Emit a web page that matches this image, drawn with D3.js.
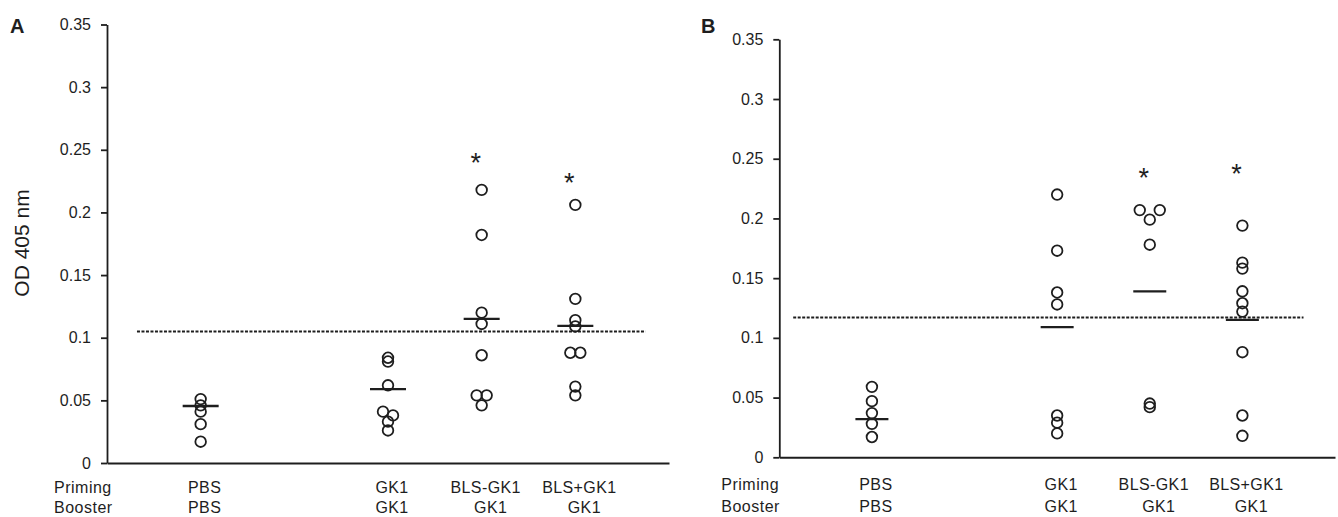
<!DOCTYPE html>
<html>
<head>
<meta charset="utf-8">
<script src="https://cdn.jsdelivr.net/npm/d3@7"></script>
<style>
  body { margin: 0; background: #fff; }
  svg { display: block; font-family: "Liberation Sans", Arial, sans-serif; }
</style>
</head>
<body>
<svg id="chart" width="1338" height="517"></svg>
<script>
// categories (slot 1 is an empty gap on the axis)
var slots = ["PBS", "gap", "GK1", "BLS-GK1", "BLS+GK1"];
var priming = ["PBS", "GK1", "BLS-GK1", "BLS+GK1"];
var booster = ["PBS", "GK1", "GK1", "GK1"];
var yTicks = [0, 0.05, 0.1, 0.15, 0.2, 0.25, 0.3, 0.35];

// panel A values (OD 405 nm)
var aPBS = [0.051, 0.046, 0.041, 0.031, 0.017];
var aGK1 = [0.084, 0.081, 0.062, 0.041, 0.038, 0.033, 0.026];
var aBLSminus = [0.218, 0.182, 0.120, 0.111, 0.086, 0.054, 0.054, 0.046];
var aBLSplus = [0.206, 0.131, 0.114, 0.109, 0.088, 0.088, 0.061, 0.054];
// side by side points: -1 left, 1 right
var aSide = [[0,0,0,0,0], [0,0,0,-1,1,0,0], [0,0,0,0,0,-1,1,0], [0,0,0,0,-1,1,0,0]];
var aMeans = [0.0455, 0.059, 0.115, 0.1095];
var aCutoff = 0.105;
var aStars = [null, null, 0.2445, 0.228];

// panel B values
var bPBS = [0.059, 0.047, 0.037, 0.028, 0.017];
var bGK1 = [0.220, 0.173, 0.138, 0.128, 0.035, 0.029, 0.020];
var bBLSminus = [0.207, 0.207, 0.199, 0.178, 0.045, 0.042];
var bBLSplus = [0.194, 0.163, 0.158, 0.139, 0.129, 0.122, 0.088, 0.035, 0.018];
var bSide = [[0,0,0,0,0], [0,0,0,0,0,0,0], [-2,2,0,0,0,0], [0,0,0,0,0,0,0,0,0]];
var bMeans = [0.032, 0.109, 0.139, 0.115];
var bCutoff = 0.117;
var bStars = [null, null, 0.239, 0.242];

var groups = ["PBS", "GK1", "BLS-GK1", "BLS+GK1"];
var svg = d3.select("#chart");
var ink = "#1e1e1e";

function panel(p) {
  var g = svg.append("g");

  var x = d3.scalePoint().domain(slots).range([p.left, p.right]).padding(1);
  var y = d3.scaleLinear().domain([0, 0.35]).range([p.bottom, p.top]);
  var step = x.step();

  // y axis
  var yAxis = g.append("g")
    .attr("transform", "translate(" + p.left + ",0)")
    .call(d3.axisLeft(y).tickValues(yTicks).tickSize(6).tickSizeOuter(0).tickPadding(10)
      .tickFormat(function(d){ return d === 0 ? "0" : String(+d.toFixed(2)); }));
  yAxis.selectAll("path, line").attr("stroke", ink).attr("stroke-width", 1.8);
  yAxis.selectAll("text").attr("fill", ink).style("font-size", "16px");

  // x axis, no ticks
  var xAxis = g.append("g")
    .attr("transform", "translate(0," + p.bottom + ")")
    .call(d3.axisBottom(x).tickValues([]).tickSizeOuter(0));
  xAxis.select("path").attr("stroke", ink).attr("stroke-width", 2);

  // cut-off line
  g.append("line")
    .attr("x1", p.left + p.dashFrom * step).attr("x2", p.left + p.dashTo * step)
    .attr("y1", y(p.cutoff)).attr("y2", y(p.cutoff))
    .attr("stroke", ink).attr("stroke-width", 2).attr("stroke-dasharray", "3,1.5");

  // points
  var pts = [];
  p.values.forEach(function(vals, gi){
    vals.forEach(function(v, i){
      pts.push({group: groups[gi], value: v, side: p.side[gi][i]});
    });
  });
  g.selectAll("circle.pt")
    .data(pts)
    .enter().append("circle")
    .attr("class", "pt")
    .attr("cx", function(d){ return x(d.group) + d.side * 5; })
    .attr("cy", function(d){ return y(d.value); })
    .attr("r", 5.3)
    .attr("fill", "none")
    .attr("stroke", ink)
    .attr("stroke-width", 1.8);

  // mean bars
  g.selectAll("line.mean")
    .data(groups.map(function(d, i){ return {group: d, value: p.means[i]}; }))
    .enter().append("line")
    .attr("class", "mean")
    .attr("x1", function(d){ return x(d.group) - p.meanW / 2; })
    .attr("x2", function(d){ return x(d.group) + p.meanW / 2; })
    .attr("y1", function(d){ return y(d.value); })
    .attr("y2", function(d){ return y(d.value); })
    .attr("stroke", ink).attr("stroke-width", 2.3);

  // significance stars
  g.selectAll("text.star")
    .data(groups.map(function(d, i){ return {group: d, value: p.stars[i]}; }).filter(function(d){ return d.value != null; }))
    .enter().append("text")
    .attr("class", "star")
    .attr("x", function(d){ return x(d.group) - 6; })
    .attr("y", function(d){ return y(d.value) + 15; })
    .attr("text-anchor", "middle")
    .attr("fill", ink)
    .style("font-size", "27px")
    .text("*");

  // priming / booster rows
  g.append("text").attr("x", p.left - p.rowLabelDx).attr("y", p.row1)
    .attr("fill", ink).style("font-size", "16px").style("letter-spacing", "0.5px").text("Priming");
  g.append("text").attr("x", p.left - p.rowLabelDx).attr("y", p.row2)
    .attr("fill", ink).style("font-size", "16px").style("letter-spacing", "0.5px").text("Booster");

  g.selectAll("text.prim")
    .data(groups.map(function(d, i){ return {group: d, label: priming[i]}; }))
    .enter().append("text")
    .attr("class", "prim")
    .attr("x", function(d){ return x(d.group) + 4; })
    .attr("y", p.row1)
    .attr("text-anchor", "middle")
    .attr("fill", ink).style("font-size", "16px").style("letter-spacing", "0.4px")
    .text(function(d){ return d.label; });

  g.selectAll("text.boost")
    .data(groups.map(function(d, i){ return {group: d, label: booster[i]}; }))
    .enter().append("text")
    .attr("class", "boost")
    .attr("x", function(d, i){ return x(d.group) + (i < 2 ? 4 : 9); })
    .attr("y", p.row2)
    .attr("text-anchor", "middle")
    .attr("fill", ink).style("font-size", "16px").style("letter-spacing", "0.4px")
    .text(function(d){ return d.label; });

  // panel letter
  g.append("text").attr("x", p.letterX).attr("y", 33)
    .attr("fill", ink).style("font-size", "20px").style("font-weight", "bold")
    .text(p.letter);

  return g;
}

panel({
  letter: "A", letterX: 10,
  left: 107, right: 669, top: 24.5, bottom: 463,
  values: [aPBS, aGK1, aBLSminus, aBLSplus], side: aSide,
  means: aMeans, cutoff: aCutoff, stars: aStars,
  dashFrom: 0.32, dashTo: 5.75, meanW: 36,
  row1: 493, row2: 513, rowLabelDx: 53
});

panel({
  letter: "B", letterX: 701,
  left: 779.3, right: 1335, top: 39.3, bottom: 457.3,
  values: [bPBS, bGK1, bBLSminus, bBLSplus], side: bSide,
  means: bMeans, cutoff: bCutoff, stars: bStars,
  dashFrom: 0.15, dashTo: 5.66, meanW: 33,
  row1: 490, row2: 512, rowLabelDx: 58
});

// y label, panel A only
svg.append("text")
  .attr("transform", "translate(29,243) rotate(-90)")
  .attr("text-anchor", "middle")
  .attr("fill", ink)
  .style("font-size", "21px")
  .text("OD 405 nm");
</script>
</body>
</html>
